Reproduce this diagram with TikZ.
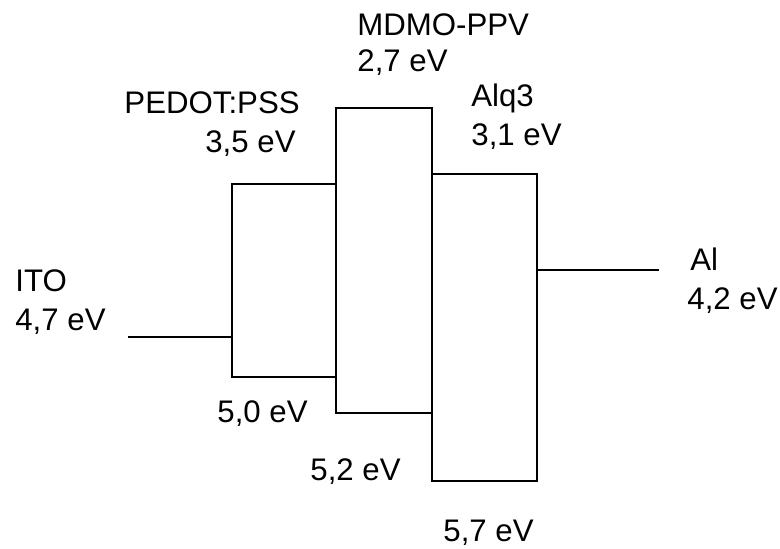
\documentclass[tikz,border=0pt]{standalone}
\usepackage{fontspec}
\setmainfont{Liberation Sans}
\usetikzlibrary{positioning}

\begin{document}
\begin{tikzpicture}[x=0.5pt,y=-0.5pt,
every node/.style={inner sep=0pt,font=\fontsize{15.6}{19}\selectfont},
lvl/.style={draw,line width=0.9pt}]
\useasboundingbox (0,0) rectangle (780,548);
% levels
\draw[lvl] (232,184) rectangle (336,377);
\draw[lvl] (336,108) rectangle (432,413);
\draw[lvl] (432,174) rectangle (537,481);
\coordinate (ITOa) at (128,337);
\coordinate (ITOb) at (232,337);
\coordinate (ALa) at (537,270);
\coordinate (ALb) at (659,270);
\draw[lvl] (ITOa)--(ITOb);
\draw[lvl] (ALa)--(ALb);
% labels
\node[anchor=base west] (ITO) at (15,291) {ITO};
\node[anchor=base west] (ITOe) at (15,330) {4,7 eV};
\node[anchor=base east] (PED) at (300,113) {PEDOT:PSS};
\node[anchor=base east] (PEDe) at (296,152) {3,5 eV};
\node[anchor=base west] (MDM) at (357,35) {MDMO-PPV};
\node[anchor=base west] (MDMe) at (357,71) {2,7 eV};
\node[anchor=base west] (ALQ) at (471,106) {Alq3};
\node[anchor=base west] (ALQe) at (471,145) {3,1 eV};
\node[anchor=base west] (AL) at (690,270) {Al};
\node[anchor=base west] (ALe) at (687,309) {4,2 eV};
\node[anchor=base west] (PEDh) at (217,422) {5,0 eV};
\node[anchor=base west] (MDMh) at (310,480) {5,2 eV};
\node[anchor=base west] (ALQh) at (443,541) {5,7 eV};
\end{tikzpicture}
\end{document}
